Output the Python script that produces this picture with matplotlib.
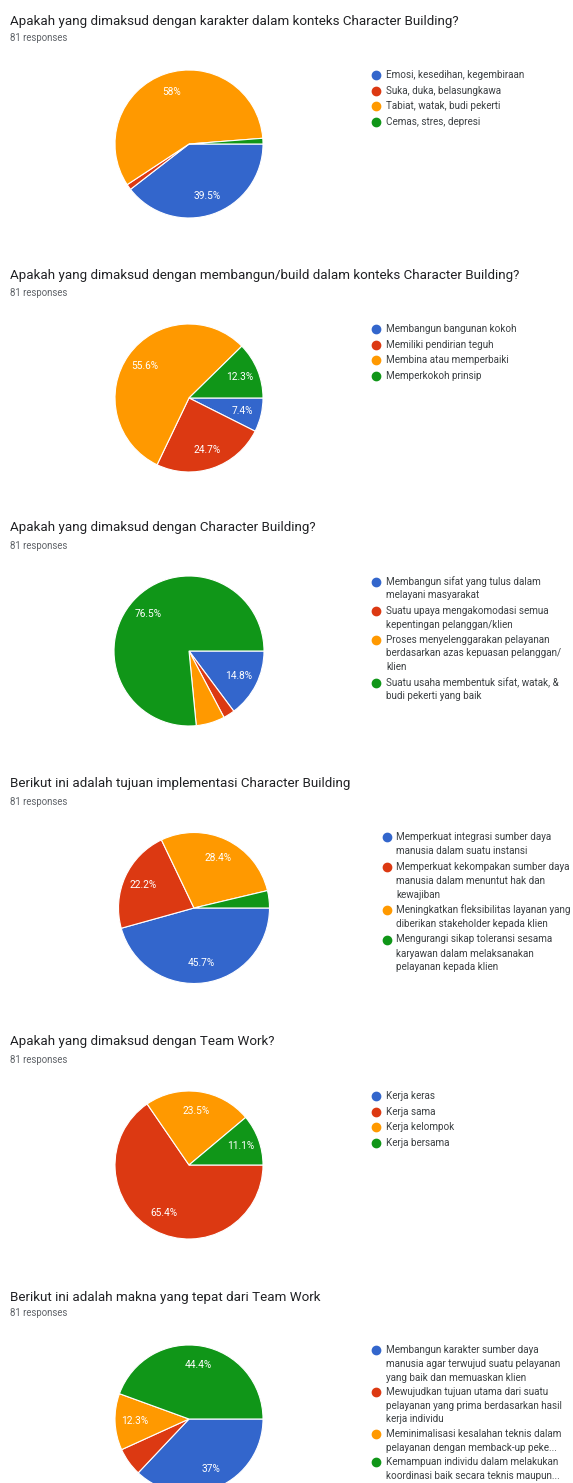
import matplotlib
matplotlib.use("Agg")
import matplotlib.pyplot as plt
from matplotlib.lines import Line2D

plt.rcParams['font.family'] = ['Roboto', 'DejaVu Sans']

W, H = 573, 1483
colors = ['#3366CC', '#DC3912', '#FF9900', '#109618']

# counts out of 81 responses
titles = [
    "Apakah yang dimaksud dengan karakter dalam konteks Character Building?",
    "Apakah yang dimaksud dengan membangun/build dalam konteks Character Building?",
    "Apakah yang dimaksud dengan Character Building?",
    "Berikut ini adalah tujuan implementasi Character Building",
    "Apakah yang dimaksud dengan Team Work?",
    "Berikut ini adalah makna yang tepat dari Team Work",
]
counts = [
    [32, 1, 47, 1],
    [6, 20, 45, 10],
    [12, 2, 5, 62],
    [37, 18, 23, 3],
    [0, 53, 19, 9],
    [30, 5, 10, 36],
]
labels = [
    ["Emosi, kesedihan, kegembiraan", "Suka, duka, belasungkawa",
     "Tabiat, watak, budi pekerti", "Cemas, stres, depresi"],
    ["Membangun bangunan kokoh", "Memiliki pendirian teguh",
     "Membina atau memperbaiki", "Memperkokoh prinsip"],
    ["Membangun sifat yang tulus dalam\nmelayani masyarakat",
     "Suatu upaya mengakomodasi semua\nkepentingan pelanggan/klien",
     "Proses menyelenggarakan pelayanan\nberdasarkan azas kepuasan pelanggan/\nklien",
     "Suatu usaha membentuk sifat, watak, &\nbudi pekerti yang baik"],
    ["Memperkuat integrasi sumber daya\nmanusia dalam suatu instansi",
     "Memperkuat kekompakan sumber daya\nmanusia dalam menuntut hak dan\nkewajiban",
     "Meningkatkan fleksibilitas layanan yang\ndiberikan stakeholder kepada klien",
     "Mengurangi sikap toleransi sesama\nkaryawan dalam melaksanakan\npelayanan kepada klien"],
    ["Kerja keras", "Kerja sama", "Kerja kelompok", "Kerja bersama"],
    ["Membangun karakter sumber daya\nmanusia agar terwujud suatu pelayanan\nyang baik dan memuaskan klien",
     "Mewujudkan tujuan utama dari suatu\npelayanan yang prima berdasarkan hasil\nkerja individu",
     "Meminimalisasi kesalahan teknis dalam\npelayanan dengan memback-up peke...",
     "Kemampuan individu dalam melakukan\nkoordinasi baik secara teknis maupun..."],
]
n_responses = 81

# layout per panel (pixels, y from top)
title_y = [22, 275, 528, 783, 1042, 1297]
resp_y = [38, 293, 546, 802, 1060, 1313]
pies = [(189, 144, 74), (189, 398, 74), (189, 651, 75), (194, 908, 75.5),
        (189, 1165, 74), (189, 1419, 74)]
leg = [  # bullet x, text x, first line y, line height, item gap
    (376, 386, 75, 13.7, 2.0),
    (376, 386, 329, 13.7, 2.0),
    (376, 386, 582, 13.5, 2.0),
    (387, 396, 837, 14.0, 1.5),
    (376, 386, 1096, 13.7, 2.0),
    (376, 386, 1350, 13.8, 0.5),
]

fig = plt.figure(figsize=(W / 100, H / 100), dpi=100)
fig.patch.set_facecolor('white')


def fx(x):
    return x / W


def fy(y):
    return 1 - y / H


def fmt(p):
    if p < 7:
        return ''
    s = f"{p:.1f}"
    if s.endswith('.0'):
        s = s[:-2]
    return s + '%'


for i in range(6):
    fig.text(fx(10), fy(title_y[i]), titles[i], fontsize=9.6, color='#202124',
             va='center', ha='left')
    fig.text(fx(10), fy(resp_y[i]), f"{n_responses} responses", fontsize=6.9,
             color='#5f6368', va='center', ha='left')

    cx, cy, r = pies[i]
    ax = fig.add_axes([fx(cx - r), fy(cy + r), 2 * r / W, 2 * r / H])
    ax.pie(counts[i], colors=colors, startangle=0, counterclock=False,
           autopct=fmt, pctdistance=0.74,
           wedgeprops=dict(edgecolor='white', linewidth=0.8),
           textprops=dict(color='white', fontsize=7.3))
    ax.set_xlim(-1, 1)
    ax.set_ylim(-1, 1)
    ax.axis('off')

    bx, tx, y0, lh, gap = leg[i]
    line = 0
    for j, lab in enumerate(labels[i]):
        y = y0 + line * lh + j * gap
        fig.add_artist(Line2D([fx(bx)], [fy(y)], marker='o', markersize=6,
                              color=colors[j], transform=fig.transFigure,
                              linestyle='none'))
        for k, part in enumerate(lab.split('\n')):
            fig.text(fx(tx), fy(y + k * lh), part, fontsize=7.1,
                     color='#3c4043', va='center', ha='left')
        line += lab.count('\n') + 1

fig.savefig('out.png', dpi=100, facecolor='white')
